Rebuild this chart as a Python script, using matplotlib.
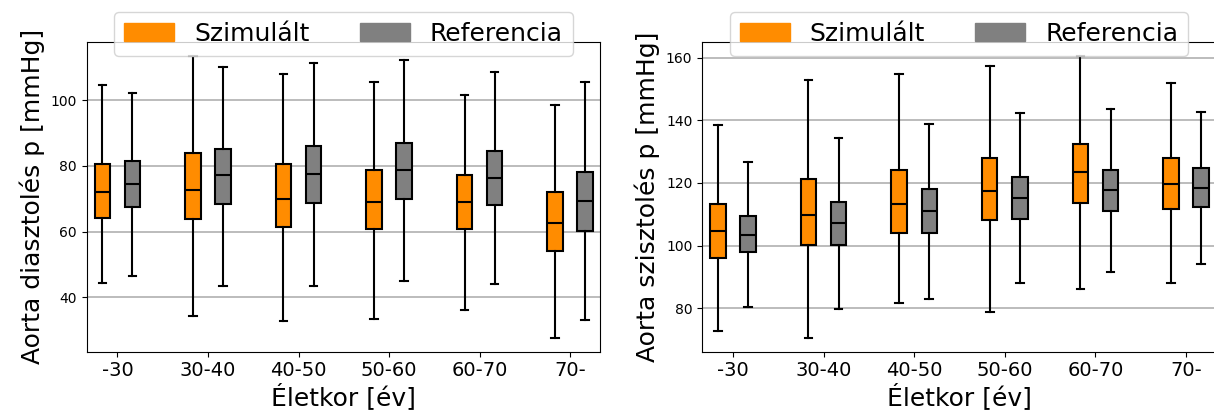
import numpy as np
import matplotlib
matplotlib.use("Agg")
import matplotlib.pyplot as plt
import matplotlib.patches as mpatches


korcsoportok = ['-30', '30-40', '40-50', '50-60', '60-70', '70-']

# Diasztolés nyomás: [alsó bajusz, Q1, medián, Q3, felső bajusz]
diasz_szim_low = [44.4, 34.5, 33.0, 33.5, 36.1, 27.8]
diasz_szim_q1 = [64.3, 63.9, 61.3, 60.7, 60.8, 54.2]
diasz_szim_med = [72.0, 72.8, 69.8, 69.1, 69.0, 62.6]
diasz_szim_q3 = [80.7, 83.9, 80.5, 78.6, 77.3, 72.0]
diasz_szim_high = [104.7, 113.3, 107.9, 105.6, 101.5, 98.6]

diasz_ref_low = [46.6, 43.4, 43.4, 44.9, 44.2, 33.3]
diasz_ref_q1 = [67.4, 68.4, 68.7, 70.0, 68.1, 60.3]
diasz_ref_med = [74.4, 77.1, 77.4, 78.7, 76.3, 69.3]
diasz_ref_q3 = [81.4, 85.2, 85.9, 87.0, 84.4, 78.1]
diasz_ref_high = [102.2, 110.1, 111.2, 112.2, 108.6, 105.4]

# Szisztolés nyomás
szisz_szim_low = [72.7, 70.6, 81.5, 78.8, 86.2, 87.9]
szisz_szim_q1 = [96.0, 100.1, 103.9, 108.1, 113.6, 111.6]
szisz_szim_med = [104.7, 109.7, 113.2, 117.3, 123.4, 119.5]
szisz_szim_q3 = [113.2, 121.2, 124.1, 127.9, 132.5, 127.9]
szisz_szim_high = [138.6, 152.9, 154.7, 157.2, 160.4, 152.0]

szisz_ref_low = [80.5, 79.8, 83.0, 87.9, 91.5, 94.2]
szisz_ref_q1 = [97.8, 100.2, 103.9, 108.3, 111.0, 112.4]
szisz_ref_med = [103.4, 107.1, 111.1, 115.1, 117.6, 118.5]
szisz_ref_q3 = [109.5, 114.0, 117.9, 122.0, 124.1, 124.7]
szisz_ref_high = [126.8, 134.4, 138.8, 142.4, 143.7, 142.7]

szin_szim = 'darkorange'
szin_ref = 'gray'


def statisztikak(low, q1, med, q3, high):
    return [{'whislo': a, 'q1': b, 'med': c, 'q3': d, 'whishi': e, 'fliers': []}
            for a, b, c, d, e in zip(low, q1, med, q3, high)]


def rajzol(ax, szim, ref, ylabel):
    x = np.arange(len(korcsoportok))
    lw = 1.5
    for stats, pos, szin in [(szim, x - 0.166, szin_szim), (ref, x + 0.166, szin_ref)]:
        ax.bxp(stats, positions=pos, widths=0.17, patch_artist=True,
               showfliers=False, manage_ticks=False,
               boxprops=dict(facecolor=szin, edgecolor='black', linewidth=lw),
               medianprops=dict(color='black', linewidth=lw),
               whiskerprops=dict(color='black', linewidth=lw),
               capprops=dict(color='black', linewidth=lw))
    ax.set_xlim(-0.34, 5.33)
    ax.set_xticks(x)
    ax.set_xticklabels(korcsoportok, fontsize=14)
    ax.tick_params(axis='y', labelsize=10)
    ax.yaxis.grid(True, color='#b0b0b0', linewidth=1.2)
    ax.set_axisbelow(True)
    ax.set_xlabel('Életkor [év]', fontsize=18, labelpad=2)
    ax.set_ylabel(ylabel, fontsize=18)
    kezelok = [mpatches.Patch(color=szin_szim, label='Szimulált'),
               mpatches.Patch(color=szin_ref, label='Referencia')]
    ax.legend(handles=kezelok, loc='upper center', bbox_to_anchor=(0.5, 1.098),
              borderaxespad=0, ncol=2, fontsize=18)


fig = plt.figure(figsize=(12.14, 4.16), dpi=100)
ax1 = fig.add_axes([0.0714, 0.1546, 0.4228, 0.744])
ax2 = fig.add_axes([0.5783, 0.1546, 0.4234, 0.744])

rajzol(ax1,
       statisztikak(diasz_szim_low, diasz_szim_q1, diasz_szim_med, diasz_szim_q3, diasz_szim_high),
       statisztikak(diasz_ref_low, diasz_ref_q1, diasz_ref_med, diasz_ref_q3, diasz_ref_high),
       'Aorta diasztolés p [mmHg]')
rajzol(ax2,
       statisztikak(szisz_szim_low, szisz_szim_q1, szisz_szim_med, szisz_szim_q3, szisz_szim_high),
       statisztikak(szisz_ref_low, szisz_ref_q1, szisz_ref_med, szisz_ref_q3, szisz_ref_high),
       'Aorta szisztolés p [mmHg]')
ax1.set_yticks([40, 60, 80, 100])
ax2.set_yticks([80, 100, 120, 140, 160])

fig.savefig('out.png', dpi=100)
